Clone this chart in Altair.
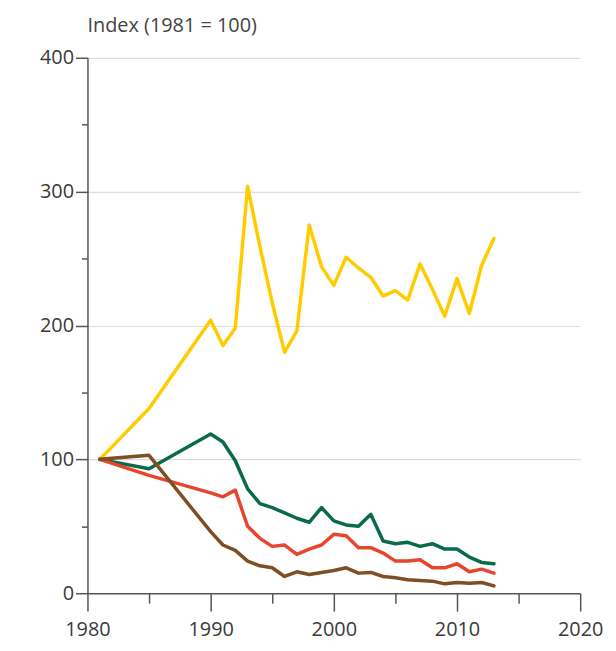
import altair as alt
import pandas as pd

years_a = [1981, 1985, 1990, 1991, 1992, 1993, 1994, 1995, 1996, 1997, 1998, 1999,
           2000, 2001, 2002, 2003, 2004, 2005, 2006, 2007, 2008, 2009, 2010, 2011, 2012, 2013]

yellow = [100, 138, 204, 185, 198, 304, 259, 217, 180, 196, 275, 244,
          230, 251, 243, 236, 222, 226, 219, 246, 227, 207, 235, 209, 245, 265]
green = [100, 93, 119, 113, 99, 78, 67, 64, 60, 56, 53, 64,
         54, 51, 50, 59, 39, 37, 38, 35, 37, 33, 33, 27, 23, 22]
red = [100, 88, 75, 72, 77, 50, 41, 35, 36, 29, 33, 36,
       44, 43, 34, 34, 30, 24, 24, 25, 19, 19, 22, 16, 18, 15]
brown = [100, 103, 46, 36, 32, 24, 20.5, 19, 12.5, 16, 14, 15.5,
         17, 19, 15, 15.5, 12.5, 11.5, 10, 9.5, 9, 7, 8, 7.5, 8, 5.5]

series_names = ["yellow", "green", "red", "brown"]
series_values = [yellow, green, red, brown]
series_colors = ["#FFCC00", "#0A6B47", "#E8452E", "#7E4E24"]

rows = []
for name, vals in zip(series_names, series_values):
    for y, v in zip(years_a, vals):
        rows.append({"year": y, "value": v, "series": name})
df = pd.DataFrame(rows)

font = "Open Sans"
axis_color = "#555555"
label_color = "#3a3a3a"

x_axis = alt.Axis(
    values=list(range(1980, 2021, 5)),
    labelExpr="datum.value % 10 == 0 ? datum.value : ''",
    tickSize=alt.condition("datum.value % 10 == 0", alt.value(18), alt.value(10)),
    grid=False,
    title=None,
    domainColor=axis_color,
    tickColor=axis_color,
    labelColor=label_color,
    labelFont=font,
    labelFontSize=20,
    labelPadding=9,
    labelFlush=False,
    domainWidth=1.5,
    tickWidth=1.5,
)

y_axis = alt.Axis(
    values=list(range(0, 401, 50)),
    labelExpr="datum.value % 100 == 0 ? datum.value : ''",
    tickSize=alt.condition("datum.value % 100 == 0", alt.value(12), alt.value(6)),
    grid=True,
    gridOpacity=alt.condition("datum.value % 100 == 0 && datum.value > 0", alt.value(1), alt.value(0)),
    gridColor="#dddddd",
    gridWidth=1.2,
    title=None,
    domainColor=axis_color,
    tickColor=axis_color,
    labelColor=label_color,
    labelFont=font,
    labelFontSize=20,
    labelPadding=2,
    labelFlush=False,
    domainWidth=1.5,
    tickWidth=1.5,
)

chart = alt.Chart(df).mark_line(strokeWidth=3.5, strokeJoin="round", strokeCap="round").encode(
    x=alt.X("year:Q", scale=alt.Scale(domain=[1980, 2020], nice=False, zero=False), axis=x_axis),
    y=alt.Y("value:Q", scale=alt.Scale(domain=[0, 400], nice=False), axis=y_axis),
    color=alt.Color("series:N", scale=alt.Scale(domain=series_names, range=series_colors), legend=None),
).properties(
    width=496,
    height=539,
    title=alt.TitleParams(
        "Index (1981 = 100)",
        anchor="start",
        frame="group",
        font=font,
        fontSize=20,
        fontWeight="normal",
        color="#444444",
        offset=12,
    ),
    autosize=alt.AutoSizeParams(type="none"),
    padding={"left": 80, "top": 48, "right": 28, "bottom": 48},
).configure_view(stroke=None)

chart.save("out.html", embed_options={"renderer": "svg", "actions": False})
